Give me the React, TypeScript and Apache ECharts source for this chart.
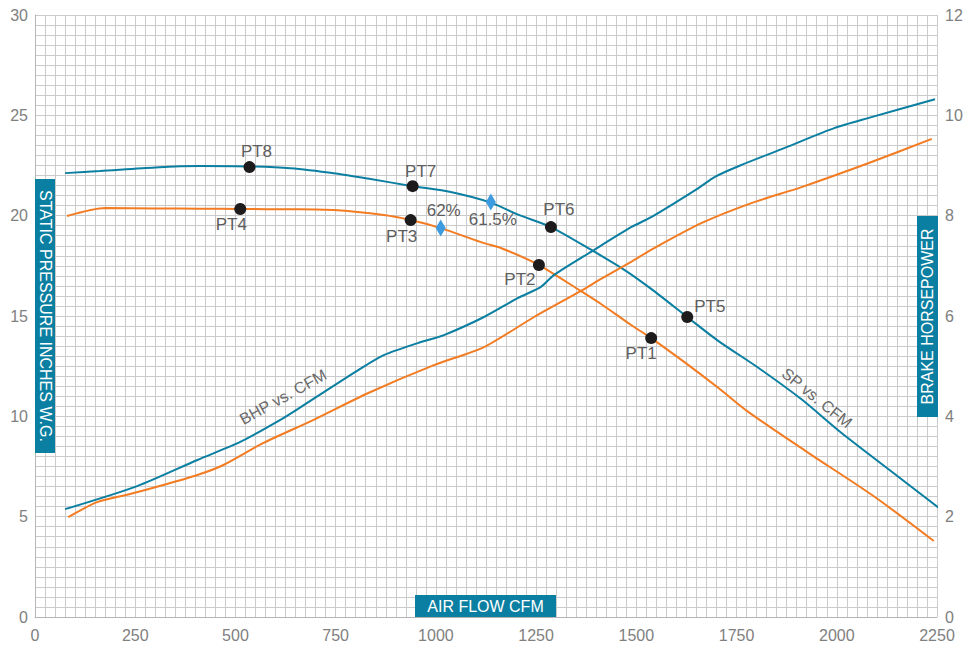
import React, { useEffect, useRef } from "react";
import * as echarts from "echarts";

const xTickLabels = [0, 250, 500, 750, 1000, 1250, 1500, 1750, 2000, 2250];
const leftTickLabels = [0, 5, 10, 15, 20, 25, 30];
const rightTickLabels = [0, 2, 4, 6, 8, 10, 12];

const spUpper: [number, number][] = [
  [75, 22.12], [162, 22.22], [300, 22.4], [412, 22.47], [535, 22.45], [637, 22.36],
  [750, 22.1], [830, 21.85], [942, 21.47], [1037, 21.18], [1137, 20.65], [1205, 20.05],
  [1287, 19.43], [1392, 18.24], [1470, 17.3], [1537, 16.35], [1627, 14.95], [1705, 13.75],
  [1805, 12.41], [1912, 10.85], [2012, 9.17], [2130, 7.35], [2255, 5.43],
];
const spLower: [number, number][] = [
  [80, 19.98], [175, 20.38], [300, 20.36], [412, 20.35], [512, 20.33], [640, 20.32],
  [745, 20.28], [870, 20.03], [937, 19.78], [1012, 19.38], [1120, 18.63], [1162, 18.39],
  [1257, 17.54], [1362, 16.24], [1412, 15.6], [1487, 14.55], [1537, 13.9], [1620, 12.7],
  [1705, 11.41], [1780, 10.21], [1930, 8.17], [2095, 5.98], [2242, 3.79],
];
const bhpUpper: [number, number][] = [
  [75, 2.15], [255, 2.61], [405, 3.13], [512, 3.49], [612, 3.93], [662, 4.18], [812, 4.95],
  [870, 5.22], [955, 5.46], [1020, 5.62], [1120, 5.98], [1205, 6.36], [1262, 6.58],
  [1295, 6.82], [1387, 7.28], [1487, 7.77], [1537, 7.97], [1655, 8.55], [1695, 8.77],
  [1762, 9.01], [1870, 9.35], [1995, 9.75], [2080, 9.95], [2245, 10.32],
];
const bhpLower: [number, number][] = [
  [83, 1.99], [155, 2.29], [237, 2.45], [320, 2.63], [405, 2.83], [470, 3.03], [570, 3.47],
  [695, 3.93], [830, 4.46], [995, 5.02], [1120, 5.38], [1245, 5.98], [1362, 6.5],
  [1412, 6.74], [1487, 7.08], [1537, 7.32], [1662, 7.85], [1787, 8.25], [1912, 8.57],
  [2080, 9.05], [2237, 9.53],
];

const pointNames = ["PT8", "PT7", "PT6", "PT5", "PT4", "PT3", "PT2", "PT1"];
const pointValues: [number, number][] = [
  [535, 22.42], [942, 21.47], [1287, 19.43], [1627, 14.95],
  [512, 20.33], [937, 19.78], [1257, 17.54], [1537, 13.9],
];
const effNames = ["62%", "61.5%"];
const effValues: [number, number][] = [[1012, 19.38], [1137, 20.68]];

const BLUE = "#0b7fa1";
const ORANGE = "#f37b21";
const FONT = "'Liberation Sans', Arial, sans-serif";

export default function App() {
  const ref = useRef<HTMLDivElement>(null);
  useEffect(() => {
    if (!ref.current) return;
    const chart = echarts.init(ref.current, undefined, { renderer: "svg" });

    const ptLabel: any[] = [
      { position: "top", distance: 1, offset: [7, 0] },
      { position: "top", distance: 0, offset: [8, 0] },
      { position: "top", distance: 3, offset: [8, 0] },
      { position: "right", distance: 1, offset: [0, -11] },
      { position: "bottom", distance: 1, offset: [-9, 0] },
      { position: "bottom", distance: 2, offset: [-9, 0] },
      { position: "bottom", distance: 0, offset: [-19, 0] },
      { position: "bottom", distance: 1, offset: [-10, 0] },
    ];
    const effLabel: any[] = [
      { position: "top", distance: 1, offset: [3, 0] },
      { position: "bottom", distance: 0, offset: [2, 0] },
    ];

    const lineSeries = (data: [number, number][], color: string, yAxisIndex: number) => ({
      type: "line",
      data,
      yAxisIndex,
      smooth: 0.25,
      showSymbol: false,
      lineStyle: { color, width: 2 },
      z: 3,
    });

    chart.setOption({
      animation: false,
      backgroundColor: "#ffffff",
      grid: { left: 35, right: 42, top: 15, bottom: 29, containLabel: false },
      xAxis: {
        type: "value",
        min: 0,
        max: 2250,
        interval: 25,
        axisLine: { show: true, lineStyle: { color: "#b5b5b5", width: 1 } },
        axisTick: { show: false },
        axisLabel: {
          color: "#808080",
          fontSize: 16,
          fontFamily: FONT,
          margin: 10,
          formatter: (v: number) => (xTickLabels.includes(v) ? String(v) : ""),
        },
        splitLine: { show: true, lineStyle: { color: "#cbcbcb", width: 1 } },
      },
      yAxis: [
        {
          type: "value",
          min: 0,
          max: 30,
          interval: 0.5,
          axisLine: { show: true, lineStyle: { color: "#b5b5b5", width: 1 } },
          axisTick: { show: false },
          axisLabel: {
            color: "#808080",
            fontSize: 16,
            fontFamily: FONT,
            margin: 7,
            formatter: (v: number) => (leftTickLabels.includes(v) ? String(v) : ""),
          },
          splitLine: { show: true, lineStyle: { color: "#cbcbcb", width: 1 } },
        },
        {
          type: "value",
          min: 0,
          max: 12,
          interval: 2,
          position: "right",
          axisLine: { show: false },
          axisTick: { show: false },
          splitLine: { show: false },
          axisLabel: {
            color: "#808080",
            fontSize: 16,
            fontFamily: FONT,
            margin: 8,
            formatter: (v: number) => (rightTickLabels.includes(v) ? String(v) : ""),
          },
        },
      ],
      series: [
        lineSeries(spUpper, BLUE, 0),
        lineSeries(spLower, ORANGE, 0),
        lineSeries(bhpUpper, BLUE, 1),
        lineSeries(bhpLower, ORANGE, 1),
        {
          type: "scatter",
          yAxisIndex: 0,
          symbol: "circle",
          symbolSize: 12,
          itemStyle: { color: "#1e1b1c", opacity: 1 },
          z: 5,
          data: pointValues.map((v, i) => ({
            name: pointNames[i],
            value: v,
            label: {
              show: true,
              formatter: pointNames[i],
              color: "#5e5e5e",
              fontSize: 17,
              fontFamily: FONT,
              ...ptLabel[i],
            },
          })),
        },
        {
          type: "scatter",
          yAxisIndex: 0,
          symbol: "diamond",
          symbolSize: [10, 17],
          itemStyle: { color: "#3d9be0", opacity: 1 },
          z: 5,
          data: effValues.map((v, i) => ({
            name: effNames[i],
            value: v,
            label: {
              show: true,
              formatter: effNames[i],
              color: "#5e5e5e",
              fontSize: 17,
              fontFamily: FONT,
              ...effLabel[i],
            },
          })),
        },
      ],
      graphic: [
        { type: "rect", z: 100, shape: { x: 35, y: 179, width: 20, height: 274 }, style: { fill: BLUE } },
        {
          type: "text", z: 101, x: 45, y: 316, rotation: -Math.PI / 2,
          style: { text: "STATIC PRESSURE INCHES W.G.", fill: "#ffffff", fontSize: 16, fontFamily: FONT, align: "center", verticalAlign: "middle" },
        },
        { type: "rect", z: 100, shape: { x: 917, y: 216, width: 21, height: 201 }, style: { fill: BLUE } },
        {
          type: "text", z: 101, x: 927.5, y: 316.5, rotation: Math.PI / 2,
          style: { text: "BRAKE HORSEPOWER", fill: "#ffffff", fontSize: 16, fontFamily: FONT, align: "center", verticalAlign: "middle" },
        },
        { type: "rect", z: 100, shape: { x: 415, y: 595, width: 141, height: 22 }, style: { fill: BLUE } },
        {
          type: "text", z: 101, x: 485.5, y: 606.5,
          style: { text: "AIR FLOW CFM", fill: "#ffffff", fontSize: 16, fontFamily: FONT, align: "center", verticalAlign: "middle" },
        },
        {
          type: "text", z: 101, x: 283, y: 397, rotation: (29 * Math.PI) / 180,
          style: { text: "BHP vs. CFM", fill: "#6a6a6a", fontSize: 16, fontFamily: FONT, align: "center", verticalAlign: "middle" },
        },
        {
          type: "text", z: 101, x: 817, y: 398, rotation: (-39 * Math.PI) / 180,
          style: { text: "SP vs. CFM", fill: "#6a6a6a", fontSize: 16, fontFamily: FONT, align: "center", verticalAlign: "middle" },
        },
      ],
    });
    return () => chart.dispose();
  }, []);
  return (
    <div
      ref={ref}
      style={{ position: "fixed", left: 0, top: 0, width: 979, height: 646 }}
    />
  );
}
